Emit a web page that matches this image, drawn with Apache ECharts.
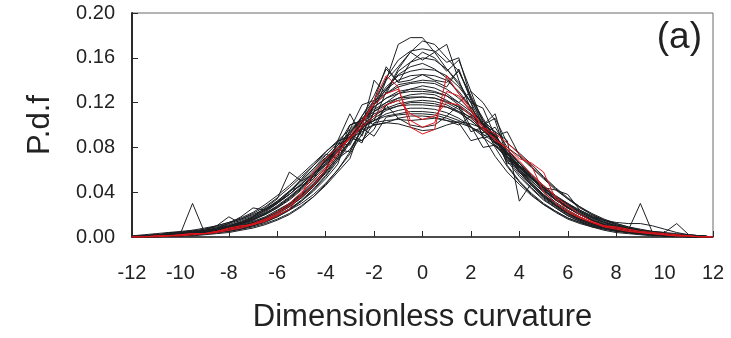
<!DOCTYPE html>
<html>
<head>
<meta charset="utf-8">
<script src="https://cdn.jsdelivr.net/npm/echarts@6/dist/echarts.min.js"></script>
<style>
  html, body { margin: 0; padding: 0; background: #fff; }
  #chart { width: 731px; height: 338px; }
</style>
</head>
<body>
<div id="chart"></div>
<script>
// x positions of the bins (dimensionless curvature)
const xs = [-12, -11.5, -11, -10.5, -10, -9.5, -9, -8.5, -8, -7.5, -7, -6.5, -6, -5.5, -5, -4.5, -4, -3.5, -3, -2.5, -2, -1.5, -1, -0.5, 0,
  0.5, 1, 1.5, 2, 2.5, 3, 3.5, 4, 4.5, 5, 5.5, 6, 6.5, 7, 7.5, 8, 8.5, 9, 9.5, 10, 10.5, 11, 11.5, 12];

// black curves
const k1 = [0, 0, 0.001, 0.001, 0.002, 0.002, 0.003, 0.004, 0.006, 0.008, 0.010, 0.014, 0.018, 0.024, 0.030, 0.038, 0.048, 0.060, 0.074, 0.092, 0.112, 0.140, 0.172, 0.178, 0.178,
  0.165, 0.172, 0.140, 0.114, 0.090, 0.072, 0.058, 0.047, 0.037, 0.029, 0.023, 0.017, 0.013, 0.010, 0.007, 0.005, 0.004, 0.003, 0.002, 0.002, 0.001, 0.001, 0, 0];
const k2 = [0, 0, 0, 0.001, 0.001, 0.002, 0.003, 0.004, 0.005, 0.007, 0.009, 0.012, 0.016, 0.021, 0.028, 0.036, 0.046, 0.058, 0.070, 0.100, 0.104, 0.130, 0.150, 0.165, 0.175,
  0.172, 0.160, 0.148, 0.126, 0.104, 0.094, 0.064, 0.050, 0.039, 0.030, 0.023, 0.017, 0.013, 0.009, 0.007, 0.005, 0.004, 0.003, 0.002, 0.001, 0.001, 0, 0, 0];
const k3 = [0, 0.001, 0.001, 0.001, 0.002, 0.003, 0.004, 0.005, 0.007, 0.009, 0.011, 0.015, 0.019, 0.025, 0.032, 0.041, 0.052, 0.065, 0.096, 0.118, 0.122, 0.152, 0.138, 0.156, 0.165,
  0.160, 0.148, 0.158, 0.130, 0.120, 0.104, 0.072, 0.058, 0.046, 0.035, 0.027, 0.020, 0.015, 0.011, 0.008, 0.006, 0.004, 0.003, 0.002, 0.002, 0.001, 0.001, 0, 0];
const k4 = [0, 0, 0.001, 0.001, 0.002, 0.003, 0.004, 0.006, 0.008, 0.010, 0.013, 0.017, 0.022, 0.028, 0.036, 0.046, 0.058, 0.072, 0.086, 0.102, 0.118, 0.132, 0.145, 0.152, 0.155,
  0.150, 0.142, 0.128, 0.116, 0.100, 0.086, 0.072, 0.059, 0.047, 0.037, 0.029, 0.022, 0.016, 0.012, 0.009, 0.006, 0.004, 0.003, 0.002, 0.001, 0.001, 0, 0, 0];
const k5 = [0, 0, 0, 0.001, 0.001, 0.002, 0.003, 0.005, 0.007, 0.009, 0.012, 0.016, 0.021, 0.027, 0.035, 0.045, 0.057, 0.070, 0.085, 0.108, 0.126, 0.150, 0.138, 0.140, 0.145,
  0.140, 0.138, 0.148, 0.124, 0.106, 0.088, 0.072, 0.058, 0.046, 0.036, 0.028, 0.021, 0.016, 0.012, 0.009, 0.006, 0.005, 0.003, 0.002, 0.002, 0.001, 0.001, 0, 0];
const k6 = [0, 0, 0.001, 0.002, 0.002, 0.003, 0.004, 0.006, 0.008, 0.011, 0.014, 0.018, 0.024, 0.030, 0.038, 0.048, 0.060, 0.074, 0.090, 0.084, 0.112, 0.120, 0.128, 0.132, 0.135,
  0.133, 0.128, 0.120, 0.130, 0.102, 0.090, 0.074, 0.062, 0.050, 0.040, 0.031, 0.024, 0.018, 0.013, 0.010, 0.007, 0.005, 0.004, 0.003, 0.002, 0.001, 0.001, 0, 0];
const k7 = [0, 0.001, 0.001, 0.002, 0.002, 0.003, 0.005, 0.006, 0.009, 0.012, 0.016, 0.020, 0.026, 0.033, 0.042, 0.052, 0.064, 0.076, 0.088, 0.086, 0.096, 0.118, 0.124, 0.127, 0.128,
  0.127, 0.122, 0.116, 0.094, 0.098, 0.088, 0.076, 0.064, 0.053, 0.043, 0.034, 0.027, 0.021, 0.016, 0.012, 0.009, 0.006, 0.004, 0.003, 0.002, 0.002, 0.001, 0.001, 0];
const k8 = [0, 0.001, 0.001, 0.002, 0.003, 0.030, 0.004, 0.006, 0.008, 0.011, 0.015, 0.020, 0.026, 0.034, 0.043, 0.054, 0.066, 0.078, 0.090, 0.100, 0.108, 0.115, 0.119, 0.121, 0.122,
  0.121, 0.118, 0.112, 0.104, 0.095, 0.085, 0.074, 0.063, 0.052, 0.042, 0.034, 0.026, 0.020, 0.015, 0.011, 0.008, 0.006, 0.030, 0.004, 0.003, 0.002, 0.001, 0.001, 0];
const k9 = [0, 0.001, 0.002, 0.002, 0.003, 0.004, 0.006, 0.008, 0.010, 0.014, 0.018, 0.024, 0.031, 0.040, 0.050, 0.061, 0.073, 0.084, 0.082, 0.103, 0.110, 0.114, 0.117, 0.118, 0.118,
  0.117, 0.116, 0.112, 0.107, 0.100, 0.106, 0.084, 0.075, 0.065, 0.054, 0.044, 0.035, 0.027, 0.020, 0.015, 0.011, 0.008, 0.006, 0.004, 0.003, 0.002, 0.001, 0.001, 0];
const k10 = [0, 0, 0.001, 0.001, 0.002, 0.003, 0.004, 0.006, 0.009, 0.012, 0.016, 0.021, 0.028, 0.036, 0.045, 0.056, 0.068, 0.080, 0.090, 0.098, 0.104, 0.108, 0.110, 0.112, 0.112,
  0.111, 0.108, 0.104, 0.098, 0.090, 0.094, 0.086, 0.032, 0.048, 0.038, 0.030, 0.023, 0.017, 0.013, 0.009, 0.007, 0.005, 0.004, 0.003, 0.002, 0.001, 0.001, 0, 0];
const k11 = [0, 0.001, 0.001, 0.002, 0.003, 0.004, 0.005, 0.007, 0.010, 0.013, 0.017, 0.022, 0.030, 0.040, 0.052, 0.064, 0.076, 0.086, 0.096, 0.106, 0.100, 0.102, 0.106, 0.108, 0.108,
  0.107, 0.104, 0.100, 0.108, 0.098, 0.082, 0.070, 0.060, 0.050, 0.041, 0.033, 0.026, 0.020, 0.015, 0.011, 0.008, 0.006, 0.004, 0.003, 0.002, 0.002, 0.001, 0, 0];
const k12 = [0, 0.001, 0.002, 0.003, 0.004, 0.005, 0.007, 0.009, 0.012, 0.016, 0.021, 0.027, 0.035, 0.044, 0.054, 0.064, 0.074, 0.070, 0.078, 0.096, 0.100, 0.102, 0.101, 0.098, 0.095,
  0.096, 0.100, 0.103, 0.101, 0.097, 0.090, 0.094, 0.073, 0.063, 0.053, 0.043, 0.034, 0.027, 0.021, 0.016, 0.012, 0.009, 0.006, 0.004, 0.003, 0.002, 0.001, 0.001, 0];
const k13 = [0, 0, 0.001, 0.001, 0.002, 0.003, 0.004, 0.006, 0.008, 0.012, 0.018, 0.026, 0.034, 0.058, 0.050, 0.056, 0.066, 0.080, 0.094, 0.106, 0.116, 0.124, 0.128, 0.130, 0.130,
  0.129, 0.126, 0.120, 0.112, 0.102, 0.090, 0.078, 0.066, 0.054, 0.044, 0.035, 0.027, 0.020, 0.015, 0.011, 0.008, 0.006, 0.004, 0.003, 0.002, 0.001, 0.001, 0, 0];
const k14 = [0, 0.001, 0.001, 0.004, 0.004, 0.006, 0.005, 0.008, 0.012, 0.018, 0.026, 0.024, 0.030, 0.038, 0.047, 0.057, 0.068, 0.078, 0.076, 0.097, 0.104, 0.110, 0.113, 0.115, 0.115,
  0.114, 0.111, 0.106, 0.099, 0.080, 0.082, 0.072, 0.062, 0.052, 0.044, 0.036, 0.030, 0.024, 0.019, 0.015, 0.012, 0.009, 0.007, 0.005, 0.004, 0.003, 0.002, 0.001, 0];
const k15 = [0, 0, 0.001, 0.001, 0.002, 0.002, 0.003, 0.004, 0.006, 0.008, 0.011, 0.014, 0.019, 0.025, 0.033, 0.043, 0.055, 0.070, 0.086, 0.104, 0.122, 0.140, 0.152, 0.165, 0.158,
  0.165, 0.150, 0.138, 0.120, 0.100, 0.084, 0.068, 0.054, 0.043, 0.033, 0.026, 0.019, 0.014, 0.010, 0.008, 0.006, 0.004, 0.003, 0.002, 0.001, 0.001, 0, 0, 0];
const k16 = [0.001, 0.002, 0.003, 0.004, 0.005, 0.006, 0.008, 0.010, 0.013, 0.016, 0.020, 0.025, 0.031, 0.038, 0.047, 0.057, 0.068, 0.080, 0.092, 0.104, 0.114, 0.120, 0.124, 0.125, 0.125,
  0.124, 0.120, 0.114, 0.106, 0.096, 0.085, 0.074, 0.063, 0.053, 0.044, 0.036, 0.029, 0.023, 0.018, 0.015, 0.013, 0.012, 0.012, 0.010, 0.007, 0.004, 0.002, 0.001, 0];
const k17 = [0, 0, 0.001, 0.001, 0.002, 0.003, 0.004, 0.005, 0.007, 0.010, 0.013, 0.017, 0.023, 0.030, 0.039, 0.050, 0.062, 0.076, 0.092, 0.108, 0.122, 0.128, 0.136, 0.138, 0.140,
  0.139, 0.134, 0.150, 0.122, 0.104, 0.088, 0.072, 0.058, 0.046, 0.036, 0.028, 0.021, 0.016, 0.012, 0.009, 0.006, 0.005, 0.003, 0.002, 0.002, 0.001, 0.001, 0, 0];
const k18 = [0.001, 0.001, 0.002, 0.003, 0.004, 0.005, 0.007, 0.010, 0.013, 0.017, 0.022, 0.029, 0.037, 0.046, 0.056, 0.066, 0.076, 0.085, 0.092, 0.086, 0.102, 0.104, 0.105, 0.104, 0.105,
  0.106, 0.104, 0.102, 0.098, 0.093, 0.098, 0.080, 0.072, 0.062, 0.052, 0.042, 0.034, 0.026, 0.020, 0.015, 0.011, 0.008, 0.006, 0.004, 0.003, 0.002, 0.001, 0.001, 0];
const k19 = [0, 0, 0, 0.001, 0.001, 0.002, 0.003, 0.004, 0.005, 0.007, 0.010, 0.013, 0.018, 0.024, 0.032, 0.042, 0.054, 0.068, 0.084, 0.098, 0.140, 0.128, 0.148, 0.156, 0.160,
  0.158, 0.150, 0.136, 0.120, 0.088, 0.092, 0.070, 0.056, 0.044, 0.034, 0.026, 0.019, 0.014, 0.010, 0.008, 0.006, 0.004, 0.003, 0.002, 0.001, 0.001, 0, 0, 0];
const k20 = [0, 0.001, 0.002, 0.002, 0.004, 0.005, 0.006, 0.010, 0.018, 0.012, 0.015, 0.021, 0.027, 0.035, 0.044, 0.054, 0.065, 0.077, 0.088, 0.098, 0.106, 0.113, 0.117, 0.120, 0.120,
  0.119, 0.116, 0.111, 0.104, 0.095, 0.085, 0.075, 0.064, 0.054, 0.044, 0.036, 0.028, 0.022, 0.017, 0.013, 0.010, 0.008, 0.006, 0.005, 0.004, 0.012, 0.002, 0.001, 0];
const k21 = [0, 0, 0.001, 0.001, 0.001, 0.002, 0.003, 0.004, 0.006, 0.008, 0.011, 0.015, 0.020, 0.027, 0.035, 0.045, 0.058, 0.072, 0.100, 0.104, 0.120, 0.134, 0.144, 0.148, 0.150,
  0.149, 0.144, 0.134, 0.120, 0.115, 0.090, 0.075, 0.061, 0.048, 0.037, 0.028, 0.021, 0.015, 0.011, 0.008, 0.006, 0.004, 0.003, 0.002, 0.001, 0.001, 0, 0, 0];
const k22 = [0, 0.001, 0.001, 0.002, 0.002, 0.003, 0.004, 0.006, 0.009, 0.012, 0.016, 0.021, 0.027, 0.035, 0.044, 0.055, 0.068, 0.082, 0.100, 0.104, 0.116, 0.124, 0.130, 0.132, 0.132,
  0.130, 0.126, 0.118, 0.110, 0.100, 0.094, 0.068, 0.066, 0.052, 0.042, 0.033, 0.026, 0.020, 0.015, 0.011, 0.008, 0.006, 0.004, 0.003, 0.002, 0.001, 0.001, 0, 0];
const k23 = [0, 0.001, 0.001, 0.002, 0.003, 0.004, 0.005, 0.007, 0.010, 0.013, 0.017, 0.023, 0.030, 0.038, 0.048, 0.059, 0.070, 0.080, 0.089, 0.097, 0.090, 0.107, 0.109, 0.110, 0.110,
  0.109, 0.106, 0.102, 0.086, 0.089, 0.081, 0.072, 0.062, 0.052, 0.044, 0.042, 0.038, 0.024, 0.018, 0.013, 0.010, 0.007, 0.005, 0.004, 0.003, 0.002, 0.001, 0.001, 0];
const k24 = [0, 0, 0, 0.001, 0.001, 0.001, 0.002, 0.003, 0.004, 0.006, 0.008, 0.011, 0.015, 0.020, 0.027, 0.036, 0.047, 0.060, 0.076, 0.096, 0.118, 0.142, 0.158, 0.166, 0.168,
  0.166, 0.156, 0.160, 0.124, 0.100, 0.080, 0.063, 0.049, 0.038, 0.029, 0.022, 0.016, 0.012, 0.009, 0.006, 0.004, 0.003, 0.002, 0.001, 0.001, 0, 0, 0, 0];
const k25 = [0, 0, 0.001, 0.002, 0.003, 0.004, 0.005, 0.007, 0.009, 0.013, 0.018, 0.024, 0.032, 0.041, 0.046, 0.052, 0.070, 0.082, 0.094, 0.104, 0.112, 0.118, 0.122, 0.124, 0.125,
  0.124, 0.121, 0.116, 0.109, 0.100, 0.089, 0.078, 0.066, 0.055, 0.045, 0.036, 0.029, 0.022, 0.017, 0.013, 0.009, 0.007, 0.005, 0.003, 0.002, 0.002, 0.001, 0, 0];
const k26 = [0, 0, 0.001, 0.001, 0.002, 0.002, 0.003, 0.005, 0.007, 0.009, 0.012, 0.016, 0.022, 0.029, 0.037, 0.047, 0.059, 0.086, 0.089, 0.104, 0.118, 0.128, 0.134, 0.137, 0.138,
  0.137, 0.132, 0.124, 0.113, 0.101, 0.088, 0.066, 0.063, 0.052, 0.042, 0.033, 0.026, 0.020, 0.015, 0.011, 0.008, 0.006, 0.004, 0.003, 0.002, 0.001, 0.001, 0, 0];
const k27 = [0, 0.001, 0.002, 0.002, 0.003, 0.004, 0.006, 0.008, 0.011, 0.015, 0.019, 0.025, 0.032, 0.041, 0.051, 0.061, 0.071, 0.080, 0.088, 0.094, 0.100, 0.118, 0.106, 0.100, 0.098,
  0.100, 0.108, 0.118, 0.098, 0.092, 0.084, 0.076, 0.066, 0.056, 0.046, 0.037, 0.030, 0.023, 0.018, 0.014, 0.010, 0.007, 0.005, 0.004, 0.003, 0.002, 0.001, 0.001, 0];
const k28 = [0, 0, 0.001, 0.001, 0.002, 0.003, 0.004, 0.005, 0.007, 0.010, 0.013, 0.017, 0.022, 0.029, 0.037, 0.047, 0.060, 0.086, 0.110, 0.090, 0.118, 0.132, 0.140, 0.144, 0.145,
  0.144, 0.140, 0.130, 0.116, 0.100, 0.110, 0.074, 0.060, 0.048, 0.038, 0.029, 0.022, 0.016, 0.012, 0.009, 0.006, 0.005, 0.003, 0.002, 0.002, 0.001, 0.001, 0, 0];

// red curves
const r1 = [0, 0, 0.001, 0.001, 0.002, 0.003, 0.003, 0.005, 0.008, 0.010, 0.011, 0.014, 0.019, 0.025, 0.038, 0.058, 0.070, 0.080, 0.088, 0.100, 0.122, 0.144, 0.134, 0.098, 0.092,
  0.096, 0.144, 0.128, 0.114, 0.098, 0.092, 0.084, 0.074, 0.064, 0.040, 0.030, 0.022, 0.017, 0.013, 0.010, 0.009, 0.007, 0.005, 0.004, 0.003, 0.002, 0.001, 0, 0];
const r2 = [0, 0, 0, 0.001, 0.001, 0.002, 0.003, 0.004, 0.006, 0.008, 0.011, 0.015, 0.020, 0.028, 0.036, 0.046, 0.060, 0.074, 0.090, 0.104, 0.118, 0.128, 0.132, 0.104, 0.098,
  0.102, 0.130, 0.126, 0.112, 0.098, 0.086, 0.080, 0.070, 0.066, 0.058, 0.034, 0.024, 0.018, 0.013, 0.009, 0.007, 0.005, 0.004, 0.003, 0.002, 0.001, 0.001, 0, 0];
const r3 = [0, 0, 0.001, 0.001, 0.002, 0.003, 0.003, 0.005, 0.007, 0.009, 0.012, 0.016, 0.022, 0.030, 0.040, 0.050, 0.062, 0.076, 0.088, 0.098, 0.108, 0.118, 0.122, 0.110, 0.105,
  0.108, 0.120, 0.118, 0.108, 0.096, 0.088, 0.078, 0.068, 0.056, 0.046, 0.036, 0.028, 0.020, 0.014, 0.010, 0.008, 0.006, 0.004, 0.003, 0.002, 0.001, 0.001, 0, 0];

const blackCurves = [k1, k2, k3, k4, k5, k6, k7, k8, k9, k10, k11, k12, k13, k14,
  k15, k16, k17, k18, k19, k20, k21, k22, k23, k24, k25, k26, k27, k28];
const redCurves = [r1, r2, r3];

const font = 'Liberation Sans, Arial, Helvetica, sans-serif';

function toLine(ys, color) {
  return {
    type: 'line',
    data: xs.map((x, i) => [x, ys[i]]),
    symbol: 'none',
    silent: true,
    lineStyle: { color: color, width: 1 }
  };
}

const chart = echarts.init(document.getElementById('chart'));
chart.setOption({
  animation: false,
  backgroundColor: '#fff',
  grid: {
    left: 132, right: 18, top: 13, bottom: 98,
    show: true,
    borderColor: '#6b6b6b',
    borderWidth: 1
  },
  graphic: [{
    type: 'text',
    right: 29, top: 19,
    style: { text: '(a)', font: '37px ' + font, fill: '#222' }
  }],
  xAxis: {
    type: 'value',
    min: -12, max: 12, interval: 2,
    name: 'Dimensionless curvature',
    nameLocation: 'middle',
    nameGap: 65,
    nameTextStyle: { fontSize: 31, fontFamily: font, color: '#222' },
    axisLine: { lineStyle: { color: '#2a2a2a', width: 1.5 } },
    axisTick: { inside: true, length: 6, lineStyle: { color: '#2a2a2a' } },
    axisLabel: { fontSize: 20, fontFamily: font, color: '#222', margin: 26 },
    splitLine: { show: false }
  },
  yAxis: {
    type: 'value',
    min: 0, max: 0.2, interval: 0.04,
    name: 'P.d.f',
    nameLocation: 'middle',
    nameGap: 76,
    nameRotate: 90,
    nameTextStyle: { fontSize: 31, fontFamily: font, color: '#222' },
    axisLine: { show: true, onZero: false, lineStyle: { color: '#2a2a2a', width: 2 } },
    axisTick: { show: true, inside: true, length: 6, lineStyle: { color: '#2a2a2a' } },
    axisLabel: {
      fontSize: 20, fontFamily: font, color: '#222', margin: 17,
      formatter: v => v.toFixed(2)
    },
    splitLine: { show: false }
  },
  series: blackCurves.map(c => toLine(c, '#1c1f22')).concat(redCurves.map(c => toLine(c, '#e3161c')))
});
</script>
</body>
</html>
